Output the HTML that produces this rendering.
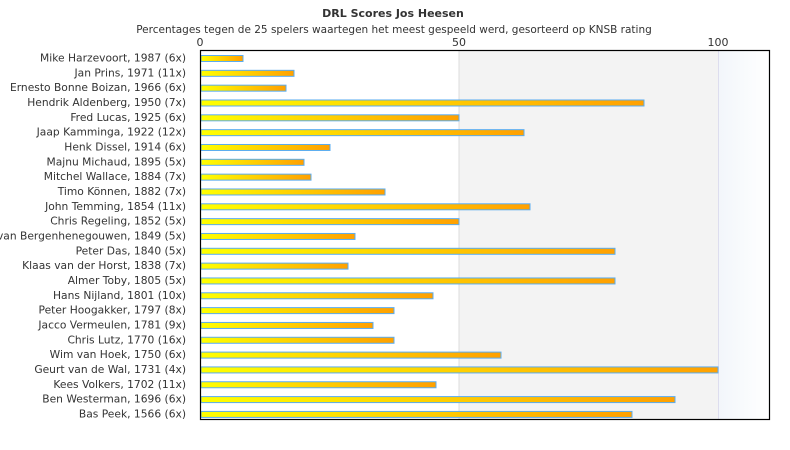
<!DOCTYPE html>
<html><head><meta charset="utf-8"><style>
body{margin:0;background:#fff;}
svg{display:block;font-family:"DejaVu Sans","Liberation Sans",sans-serif;}
</style></head><body>
<svg width="790" height="450" xmlns="http://www.w3.org/2000/svg">
<defs>
<linearGradient id="g" x1="0" x2="1" y1="0" y2="0"><stop offset="0" stop-color="#ffff00"/><stop offset="1" stop-color="#ffa000"/></linearGradient>
<linearGradient id="r" x1="0" x2="1"><stop offset="0" stop-color="#f2f6fb"/><stop offset="1" stop-color="#ffffff"/></linearGradient>
</defs>
<text x="393" y="17" text-anchor="middle" font-size="11" font-weight="bold" fill="#333">DRL Scores Jos Heesen</text>
<text x="394" y="33" text-anchor="middle" font-size="10.5" fill="#333">Percentages tegen de 25 spelers waartegen het meest gespeeld werd, gesorteerd op KNSB rating</text>
<text x="200" y="46" text-anchor="middle" font-size="11" fill="#333">0</text>
<text x="459" y="46" text-anchor="middle" font-size="11" fill="#333">50</text>
<text x="718" y="46" text-anchor="middle" font-size="11" fill="#333">100</text>
<rect x="459" y="50" width="259" height="370" fill="#f3f3f3"/>
<rect x="718" y="50" width="52" height="370" fill="url(#r)"/>
<line x1="459" y1="50" x2="459" y2="420" stroke="#ddd"/>
<line x1="718.5" y1="50" x2="718.5" y2="420" stroke="#dde"/>
<g id="bars" stroke="#5aacf0" stroke-width="1" fill="url(#g)"></g>
<g id="labels" font-size="10.7" fill="#333" text-anchor="end"></g>
<rect x="200.5" y="50.5" width="569" height="369" fill="none" stroke="#000" stroke-width="1.2"/>
<script>
var d=[["Mike Harzevoort, 1987 (6x)",243],["Jan Prins, 1971 (11x)",294],["Ernesto Bonne Boizan, 1966 (6x)",286],["Hendrik Aldenberg, 1950 (7x)",644],["Fred Lucas, 1925 (6x)",459],["Jaap Kamminga, 1922 (12x)",524],["Henk Dissel, 1914 (6x)",330],["Majnu Michaud, 1895 (5x)",304],["Mitchel Wallace, 1884 (7x)",311],["Timo Können, 1882 (7x)",385],["John Temming, 1854 (11x)",530],["Chris Regeling, 1852 (5x)",459],["van Bergenhenegouwen, 1849 (5x)",355],["Peter Das, 1840 (5x)",615],["Klaas van der Horst, 1838 (7x)",348],["Almer Toby, 1805 (5x)",615],["Hans Nijland, 1801 (10x)",433],["Peter Hoogakker, 1797 (8x)",394],["Jacco Vermeulen, 1781 (9x)",373],["Chris Lutz, 1770 (16x)",394],["Wim van Hoek, 1750 (6x)",501],["Geurt van de Wal, 1731 (4x)",718],["Kees Volkers, 1702 (11x)",436],["Ben Westerman, 1696 (6x)",675],["Bas Peek, 1566 (6x)",632]];
var ns="http://www.w3.org/2000/svg",b=document.getElementById("bars"),l=document.getElementById("labels");
d.forEach(function(e,i){var y=55+i*14.83;
var r=document.createElementNS(ns,"rect");r.setAttribute("x",201);r.setAttribute("y",y+0.5);r.setAttribute("width",e[1]-201);r.setAttribute("height",6);b.appendChild(r);
var t=document.createElementNS(ns,"text");t.setAttribute("x",186);t.setAttribute("y",y+6.5);t.textContent=e[0];l.appendChild(t);});
</script>
</svg>
</body></html>
